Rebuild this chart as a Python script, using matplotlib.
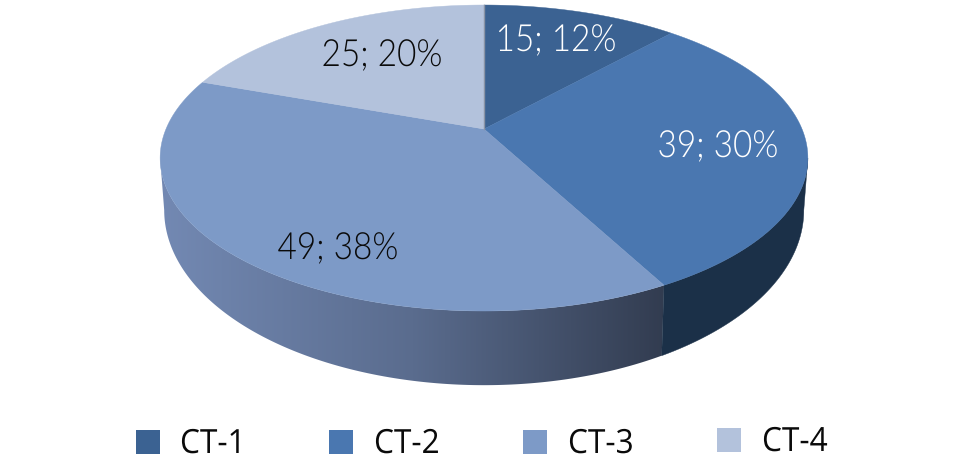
import matplotlib
matplotlib.use('Agg')
import numpy as np
import matplotlib.pyplot as plt
from matplotlib.colors import LinearSegmentedColormap
from matplotlib.patches import Polygon, Rectangle
from matplotlib.patheffects import AbstractPathEffect
from matplotlib.transforms import Affine2D

categories = ['CT-1', 'CT-2', 'CT-3', 'CT-4']
values = [15, 39, 49, 25]
percents = [12, 30, 38, 20]
colors = ['#3b6292', '#4a77b0', '#7d9ac7', '#b3c2dc']
label_colors = ['white', 'white', '#0a0a0a', '#0a0a0a']
label_pos = [(556, 51), (718, 157), (338, 259), (382, 66)]
legend_x = [136, 329, 523, 717]
legend_y = [430, 430, 430, 428]
text_x = [180, 374, 568, 762]
text_y = [453, 453, 453, 451]

# perspective of the disc, in pixels
cx, cy = 484, 129
b, a, k = 318, 147.5, 0.1896
# lower rim is a bit smaller than the top one
cy2, b2, a2 = 177, 314, 168.7


class Squeeze(AbstractPathEffect):
    # narrows the glyphs around x0, the fonts here have no condensed cut
    def __init__(self, x0, sx):
        self.x0 = x0
        self.sx = sx

    def draw_path(self, renderer, gc, tpath, affine, rgbFace=None):
        squeeze = Affine2D().translate(-self.x0, 0).scale(self.sx, 1).translate(self.x0, 0)
        renderer.draw_path(gc, tpath, affine + squeeze, rgbFace)


def project(theta, y0=cy, bb=b, aa=a):
    # theta is clockwise from 12 o'clock
    x = np.sin(theta)
    y = np.cos(theta)
    w = 1 + k * y
    return cx + bb * x / w, y0 - aa * y / w


def wall(theta):
    x1, y1 = project(theta)
    x2, y2 = project(theta, cy2, b2, a2)
    return np.r_[np.c_[x1, y1], np.c_[x2[::-1], y2[::-1]]]


fig = plt.figure(figsize=(9.69, 4.63), dpi=100)
ax = fig.add_axes([0, 0, 1, 1])

edges = np.cumsum([0] + values) / sum(values) * 2 * np.pi
# where the rim turns back out of sight
right_end = np.pi / 2 + np.arcsin(k)
left_end = 3 * np.pi / 2 - np.arcsin(k)

# CT-3 wall, shaded from left to right
poly3 = Polygon(wall(np.linspace(edges[2], left_end, 300)), closed=True, fc='none', ec='none')
ax.add_patch(poly3)
grad = np.linspace(0, 1, 256).reshape(1, -1)
cmap3 = LinearSegmentedColormap.from_list('wall3', ['#7389b3', '#5a6c8e', '#323c50'])
im = ax.imshow(grad, extent=(160, 666, 470, 100), aspect='auto', cmap=cmap3, zorder=1)
im.set_clip_path(poly3)

# CT-2 wall
ax.add_patch(Polygon(wall(np.linspace(right_end, edges[2], 200)), closed=True,
                     fc='#1b3048', ec='#1b3048', lw=0.3, zorder=1))

# top of the disc
for i, c in enumerate(colors):
    t = np.linspace(edges[i], edges[i + 1], 200)
    x, y = project(t)
    pts = np.r_[[[cx, cy]], np.c_[x, y]]
    ax.add_patch(Polygon(pts, closed=True, fc=c, ec=c, lw=0.3, zorder=2))

x0, y0 = project(np.array([edges[0]]))
ax.plot([cx, x0[0]], [cy, y0[0]], color='#8a94a6', lw=1, zorder=3)

for v, p, (lx, ly), c in zip(values, percents, label_pos, label_colors):
    ax.text(lx, ly, '%d; %d%%' % (v, p), color=c, fontsize=27, family='Lato', weight=300,
            ha='center', va='baseline', zorder=4, path_effects=[Squeeze(lx, 0.89)])

for name, c, lx, ly, tx, ty in zip(categories, colors, legend_x, legend_y, text_x, text_y):
    ax.add_patch(Rectangle((lx, ly), 24, 24, fc=c, ec='none'))
    ax.text(tx, ty, name, color='#0a0a0a', fontsize=24, family='Open Sans', weight=400,
            va='baseline', ha='left', path_effects=[Squeeze(tx, 0.95)])

ax.set_xlim(0, 969)
ax.set_ylim(463, 0)
ax.axis('off')

fig.savefig('out.png', dpi=100)
